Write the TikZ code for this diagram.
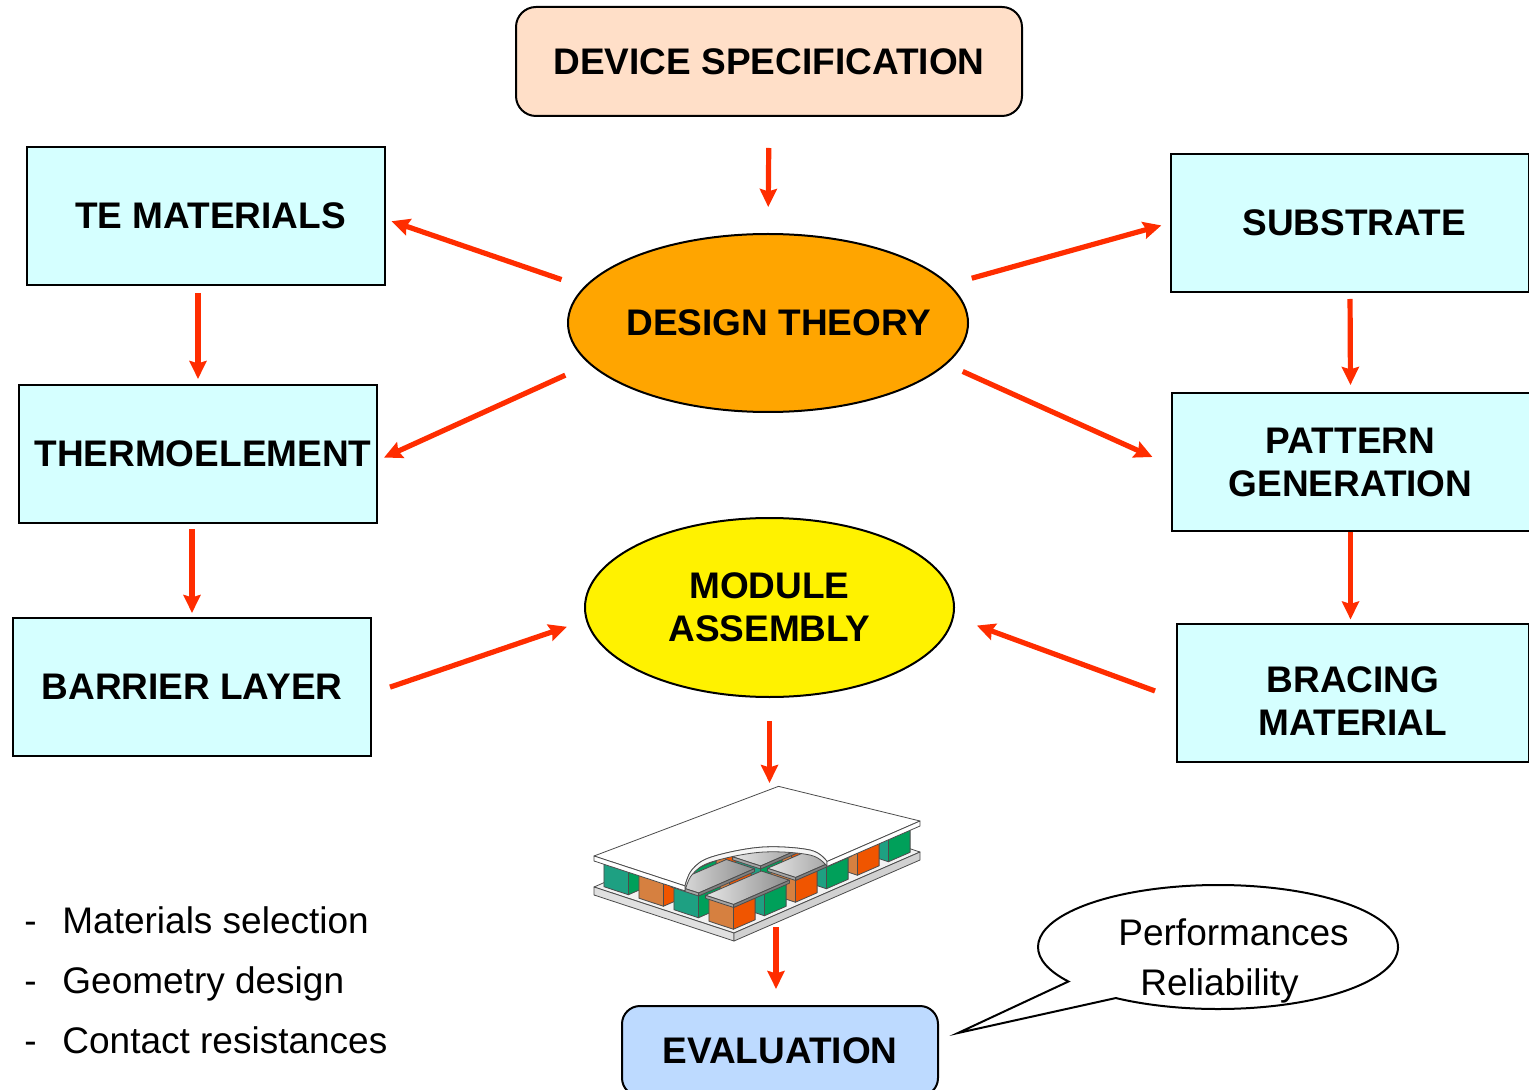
\documentclass[tikz,border=0pt]{standalone}
\usepackage{fontspec}
\setmainfont{Liberation Sans}
\usetikzlibrary{shapes.geometric,arrows.meta}
\definecolor{arrowred}{RGB}{255,45,0}
\definecolor{boxcyan}{RGB}{213,255,255}
\definecolor{specpeach}{RGB}{255,223,200}
\definecolor{theoryorange}{RGB}{255,165,0}
\definecolor{evalblue}{RGB}{189,218,255}
\definecolor{nfront}{RGB}{30,160,130}
\definecolor{nside}{RGB}{0,160,90}
\definecolor{pfront}{RGB}{214,128,64}
\definecolor{pside}{RGB}{240,85,0}
\begin{document}
\begin{tikzpicture}[x=0.5pt, y=-0.5pt,
	label/.style={font=\fontsize{18.5pt}{21.5pt}\selectfont\bfseries, align=center, inner sep=0pt},
	note/.style={font=\fontsize{18.5pt}{22pt}\selectfont, inner sep=0pt},
	stage/.style={label, draw, line width=1pt, fill=boxcyan, minimum width=179pt, minimum height=69pt},
	oval/.style={label, ellipse, draw, line width=1pt},
	arr/.style={draw=arrowred, line width=2.6pt, -{Stealth[length=9pt, width=8.5pt, inset=1.2pt]}},
	part/.style={draw=black!70, line width=0.4pt, line join=round}]
	\useasboundingbox (0, 0) rectangle (1529, 1090);
	\node (ds) at (769, 61.5) [label, draw, line width=1pt, fill=specpeach, rounded corners=10pt, minimum width=253pt, minimum height=54.5pt] {DEVICE SPECIFICATION};
	\node (te) at (205.5, 216) [stage] {\hspace{5pt}TE MATERIALS};
	\node (th) at (198, 454) [stage] {\hspace{5pt}THERMOELEMENT};
	\node (bl) at (192, 687) [stage] {BARRIER LAYER};
	\node (sub) at (1350, 223) [stage] {\hspace{4pt}SUBSTRATE};
	\node (pg) at (1350.5, 462) [stage] {PATTERN\\GENERATION};
	\node (bm) at (1353, 692.5) [stage, minimum width=176pt] {\raisebox{-4.5pt}[\height][\depth]{BRACING}\\\raisebox{-4.5pt}[\height][\depth]{MATERIAL}};
	\node (dt) at (768, 323) [oval, fill=theoryorange, minimum width=200pt, minimum height=89pt] {\makebox[0pt]{\hspace{11pt}DESIGN THEORY}};
	\node (ma) at (769.5, 607.5) [oval, fill=yellow, minimum width=184.5pt, minimum height=89.5pt] {MODULE\\ASSEMBLY};
	\node (ev) at (780, 1051) [label, draw, line width=1pt, fill=evalblue, rounded corners=9pt, minimum width=158pt, minimum height=45pt] {EVALUATION};
	\coordinate (modtop) at (768, 783);
	\coordinate (modbot) at (776, 927);

	\draw[arr, shorten <=15.5pt, shorten >=13pt] (ds.south) -- (dt.north);
	\draw[arr, shorten <=11.7pt, shorten >=3.2pt] (dt.169) -- (te.-1);
	\draw[arr, shorten <=13.2pt, shorten >=3.3pt] (dt.193) -- (th.-2);
	\draw[arr, shorten <=11.5pt, shorten >=4.5pt] (dt.12) -- (sub.west);
	\draw[arr, shorten <=8.8pt, shorten >=9.9pt] (dt.-13) -- (pg.181);
	\draw[arr, shorten <=3.5pt, shorten >=2.5pt] (te.south -| th.north) -- (th.north);
	\draw[arr, shorten <=2.5pt, shorten >=2pt] (th.south -| bl.north) -- (bl.north);
	\draw[arr, shorten <=3pt, shorten >=3.5pt] (sub.south) -- (pg.north);
	\draw[arr, shorten >=1.5pt] (pg.south) -- (pg.south |- bm.north);
	\draw[arr, shorten <=9.5pt, shorten >=10pt] (bl.-2) -- (ma.184);
	\draw[arr, shorten <=11.2pt, shorten >=12.2pt] (bm.182) -- (ma.-3);
	\draw[arr, shorten <=11.5pt] (ma.south) -- (ma.south |- modtop);
	\draw[arr, shorten >=8pt] (modbot) -- (modbot |- ev.north);

	% thermoelectric module
	\begin{scope}[shift={(594, 887)}, x={(15.5pt, 6.75pt)}, y={(17.5pt, -5.75pt)}, z={(0pt, 5pt)}]
		\filldraw[part, fill=black!5] (0, 0, 0) -- (6, 0, 0) -- (6, 4, 0) -- (0, 4, 0) -- cycle;
		\filldraw[part, fill=black!12] (0, 0, 0) -- (0, 4, 0) -- (0, 4, -0.8) -- (0, 0, -0.8) -- cycle;
		\filldraw[part, fill=black!18] (0, 4, 0) -- (6, 4, 0) -- (6, 4, -0.8) -- (0, 4, -0.8) -- cycle;
		\foreach \i in {5, 4, ..., 0} {
			\foreach \j in {0, 1, 2, 3} {
				\pgfmathtruncatemacro\odd{mod(\i + \j, 2)}
				\ifnum\odd=1 \def\fa{pfront}\def\fb{pside}\else \def\fa{nfront}\def\fb{nside}\fi
				\filldraw[part, fill=\fa] (\i + 0.15, \j + 0.15, 0) -- (\i + 0.15, \j + 0.85, 0) -- (\i + 0.15, \j + 0.85, 2.3) -- (\i + 0.15, \j + 0.15, 2.3) -- cycle;
				\filldraw[part, fill=\fb] (\i + 0.15, \j + 0.85, 0) -- (\i + 0.85, \j + 0.85, 0) -- (\i + 0.85, \j + 0.85, 2.3) -- (\i + 0.15, \j + 0.85, 2.3) -- cycle;
			}
		}
		\foreach \i in {2, 0} {
			\foreach \j in {2, 3} {
				\shadedraw[part, left color=black!10, right color=black!45] (\i + 0.1, \j + 0.1, 2.6) -- (\i + 1.9, \j + 0.1, 2.6) -- (\i + 1.9, \j + 0.9, 2.6) -- (\i + 0.1, \j + 0.9, 2.6) -- cycle;
				\filldraw[part, fill=black!35] (\i + 0.1, \j + 0.1, 2.6) -- (\i + 0.1, \j + 0.9, 2.6) -- (\i + 0.1, \j + 0.9, 2.3) -- (\i + 0.1, \j + 0.1, 2.3) -- cycle;
				\filldraw[part, fill=black!50] (\i + 0.1, \j + 0.9, 2.6) -- (\i + 1.9, \j + 0.9, 2.6) -- (\i + 1.9, \j + 0.9, 2.3) -- (\i + 0.1, \j + 0.9, 2.3) -- cycle;
			}
		}
		\filldraw[part, fill=white] (0, 0, 3.1) -- (5.5, 0.4, 3.1) -- (6, 4, 3.1) -- (3, 4, 3.1)
			-- plot[smooth, tension=0.6] coordinates {(3, 4, 3.1) (3.25, 3.3, 3.1) (2.7, 2.4, 3.1) (1.6, 1.95, 3.1) (0.8, 2.1, 3.1) (0, 2.6, 3.1)} -- cycle;
		\filldraw[part, fill=black!4] plot[smooth, tension=0.6] coordinates {(3, 4, 3.1) (3.25, 3.3, 3.1) (2.7, 2.4, 3.1) (1.6, 1.95, 3.1) (0.8, 2.1, 3.1) (0, 2.6, 3.1)}
			-- plot[smooth, tension=0.6] coordinates {(0, 2.6, 2.6) (0.8, 2.1, 2.6) (1.6, 1.95, 2.6) (2.7, 2.4, 2.6) (3.25, 3.3, 2.6) (3, 4, 2.6)} -- cycle;
		\filldraw[part, fill=white] (0, 0, 3.1) -- (0, 2.6, 3.1) -- (0, 2.6, 2.6) -- (0, 0, 2.6) -- cycle;
		\filldraw[part, fill=white] (3, 4, 3.1) -- (6, 4, 3.1) -- (6, 4, 2.6) -- (3, 4, 2.6) -- cycle;
	\end{scope}

	\draw[line width=1pt, fill=white] (1218, 947) ++(124.6:180 and 62) arc[start angle=124.6, end angle=-213.8, x radius=180, y radius=62] -- (958, 1033) -- cycle;
	\node (perf) at (1118, 945) [note, anchor=base west] {Performances};
	\node (rel) at (1140, 995) [note, anchor=base west] {Reliability};

	\foreach \name/\txt [count=\k] in {sel/Materials selection, geo/Geometry design, con/Contact resistances}
		\node (\name) at (24, 873 + 60 * \k) [note, anchor=base west] {\makebox[19pt][l]{-}\txt};
\end{tikzpicture}
\end{document}
